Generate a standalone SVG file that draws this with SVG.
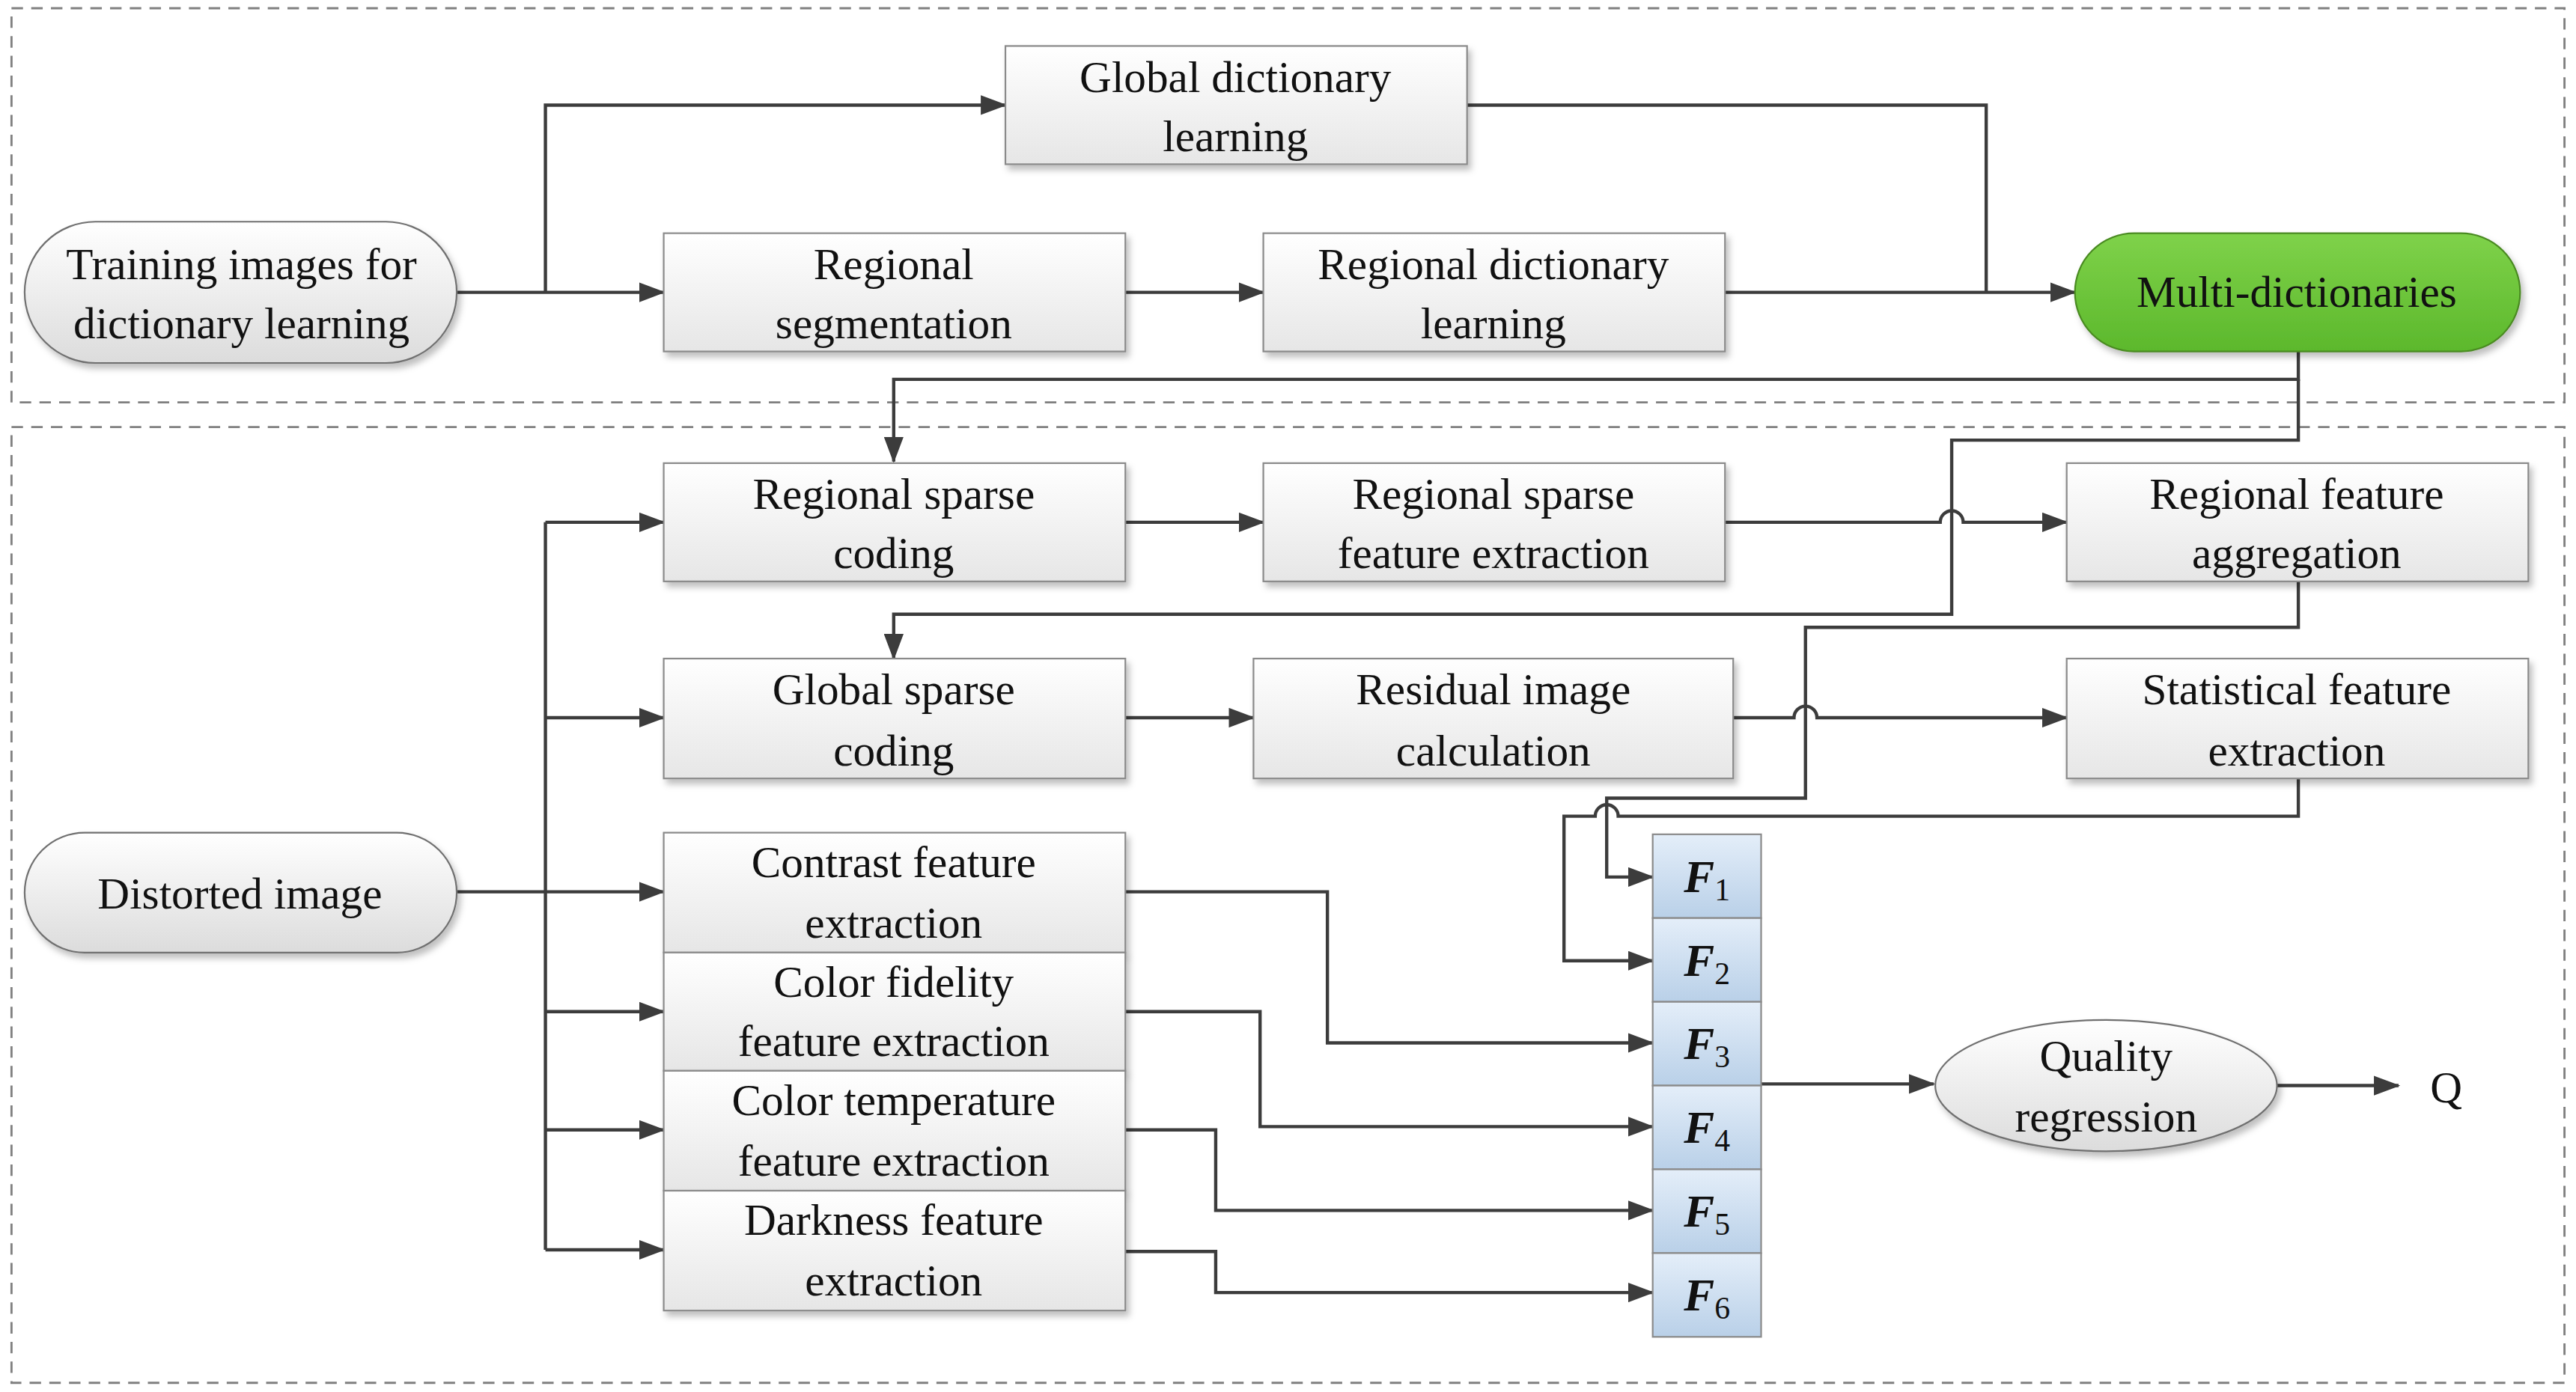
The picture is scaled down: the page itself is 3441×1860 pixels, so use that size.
<svg xmlns="http://www.w3.org/2000/svg" width="3441" height="1860" viewBox="0 0 3441 1860">
<defs>
<linearGradient id="gb" x1="0" y1="0" x2="0" y2="1"><stop offset="0" stop-color="#ffffff"/><stop offset="1" stop-color="#e6e6e6"/></linearGradient>
<linearGradient id="gs" x1="0" y1="0" x2="0" y2="1"><stop offset="0" stop-color="#ffffff"/><stop offset="1" stop-color="#dcdcdc"/></linearGradient>
<linearGradient id="gf" x1="0" y1="0" x2="0" y2="1"><stop offset="0" stop-color="#e4eef9"/><stop offset="1" stop-color="#b9d0e8"/></linearGradient>
<linearGradient id="gg" x1="0" y1="0" x2="0" y2="1"><stop offset="0" stop-color="#7fd24a"/><stop offset="1" stop-color="#5cb82c"/></linearGradient>
<filter id="sh" x="-10%" y="-10%" width="130%" height="140%"><feDropShadow dx="2" dy="3" stdDeviation="2" flood-color="#000" flood-opacity="0.25"/></filter>
<marker id="ar" markerUnits="userSpaceOnUse" markerWidth="16" markerHeight="12" refX="15" refY="6" orient="auto"><path d="M0,0 L16,6 L0,12 Z" fill="#3c3c3c"/></marker>
<style>
.box{fill:url(#gb);stroke:#8a8a8a;stroke-width:1;filter:url(#sh)}
.st{fill:url(#gs);stroke:#707070;stroke-width:1;filter:url(#sh)}
.fb{fill:url(#gf);stroke:#8a8a8a;stroke-width:1}
.dash{fill:none;stroke:#808080;stroke-width:1.3;stroke-dasharray:7,5}
.c{fill:none;stroke:#3c3c3c;stroke-width:2}
.a{marker-end:url(#ar)}
text{font-family:"Liberation Serif","Times New Roman",serif;font-size:27px;fill:#111;text-anchor:middle}
.fx{font-weight:bold;font-style:italic;font-size:28px}
.sub{font-size:19px;font-weight:normal;font-style:normal}
</style>
</defs>
<rect width="3441" height="1860" fill="#fff"/>
<g transform="scale(2.1945)">
<rect class="dash" x="7" y="5" width="1554" height="240"/>
<rect class="dash" x="7" y="260" width="1554" height="582"/>
<g id="connectors">
<path class="c a" d="M278,178 L404,178"/>
<path class="c a" d="M332,178 L332,64 L612,64"/>
<path class="c a" d="M685,178 L769,178"/>
<path class="c a" d="M1050,178 L1263,178"/>
<path class="c" d="M893,64 L1209,64 L1209,178"/>
<path class="c a" d="M1399,214 L1399,231 L544,231 L544,281"/>
<path class="c a" d="M1399,231 L1399,268 L1188,268 L1188,374 L544,374 L544,401"/>
<path class="c a" d="M685,318 L769,318"/>
<path class="c a" d="M1050,318 L1181,318 A7,7 0 0 1 1195,318 L1258,318"/>
<path class="c a" d="M685,437 L763,437"/>
<path class="c a" d="M1055,437 L1092,437 A7,7 0 0 1 1106,437 L1258,437"/>
<path class="c a" d="M1399,354 L1399,382 L1099,382 L1099,486 L978,486 L978,534 L1006,534"/>
<path class="c a" d="M1399,474 L1399,497 L985,497 A7,7 0 0 0 971,497 L952,497 L952,585 L1006,585"/>
<path class="c a" d="M278,543 L404,543"/>
<path class="c" d="M332,318 L332,761"/>
<path class="c a" d="M332,318 L404,318"/>
<path class="c a" d="M332,437 L404,437"/>
<path class="c a" d="M332,616 L404,616"/>
<path class="c a" d="M332,688 L404,688"/>
<path class="c a" d="M332,761 L404,761"/>
<path class="c a" d="M685,543 L808,543 L808,635 L1006,635"/>
<path class="c a" d="M685,616 L767,616 L767,686 L1006,686"/>
<path class="c a" d="M685,688 L740,688 L740,737 L1006,737"/>
<path class="c a" d="M685,762 L740,762 L740,787 L1006,787"/>
<path class="c a" d="M1072,660 L1177,660"/>
<path class="c a" d="M1386,661 L1460,661"/>
</g>
<g id="n-train"><rect class="st" x="15" y="135" width="263" height="86" rx="43"/><text x="147" y="170">Training images for</text><text x="147" y="206">dictionary learning</text></g>
<g id="n-global"><rect class="box" x="612" y="28" width="281" height="72"/><text x="752" y="56">Global dictionary</text><text x="752" y="92">learning</text></g>
<g id="n-seg"><rect class="box" x="404" y="142" width="281" height="72"/><text x="544" y="170">Regional</text><text x="544" y="206">segmentation</text></g>
<g id="n-rdl"><rect class="box" x="769" y="142" width="281" height="72"/><text x="909" y="170">Regional dictionary</text><text x="909" y="206">learning</text></g>
<g id="n-multi"><rect x="1263" y="142" width="271" height="72" rx="36" fill="url(#gg)" stroke="#4a8a20" stroke-width="1" filter="url(#sh)"/><text x="1398" y="187">Multi-dictionaries</text></g>
<g id="n-rsc"><rect class="box" x="404" y="282" width="281" height="72"/><text x="544" y="310">Regional sparse</text><text x="544" y="346">coding</text></g>
<g id="n-rsfe"><rect class="box" x="769" y="282" width="281" height="72"/><text x="909" y="310">Regional sparse</text><text x="909" y="346">feature extraction</text></g>
<g id="n-rfa"><rect class="box" x="1258" y="282" width="281" height="72"/><text x="1398" y="310">Regional feature</text><text x="1398" y="346">aggregation</text></g>
<g id="n-gsc"><rect class="box" x="404" y="401" width="281" height="73"/><text x="544" y="429">Global sparse</text><text x="544" y="466">coding</text></g>
<g id="n-ric"><rect class="box" x="763" y="401" width="292" height="73"/><text x="909" y="429">Residual image</text><text x="909" y="466">calculation</text></g>
<g id="n-sfe"><rect class="box" x="1258" y="401" width="281" height="73"/><text x="1398" y="429">Statistical feature</text><text x="1398" y="466">extraction</text></g>
<g id="n-dist"><rect class="st" x="15" y="507" width="263" height="73" rx="36.5"/><text x="146" y="553">Distorted image</text></g>
<g id="n-cfe"><rect class="box" x="404" y="507" width="281" height="73"/><text x="544" y="534">Contrast feature</text><text x="544" y="571">extraction</text></g>
<g id="n-cffe"><rect class="box" x="404" y="580" width="281" height="72"/><text x="544" y="607">Color fidelity</text><text x="544" y="643">feature extraction</text></g>
<g id="n-ctfe"><rect class="box" x="404" y="652" width="281" height="73"/><text x="544" y="679">Color temperature</text><text x="544" y="716">feature extraction</text></g>
<g id="n-dfe"><rect class="box" x="404" y="725" width="281" height="73"/><text x="544" y="752">Darkness feature</text><text x="544" y="789">extraction</text></g>
<g id="n-F">
<rect class="fb" x="1006" y="508" width="66" height="51"/><rect class="fb" x="1006" y="559" width="66" height="51"/><rect class="fb" x="1006" y="610" width="66" height="51"/><rect class="fb" x="1006" y="661" width="66" height="51"/><rect class="fb" x="1006" y="712" width="66" height="51"/><rect class="fb" x="1006" y="763" width="66" height="51"/>
<text class="fx" x="1039" y="543">F<tspan class="sub" dy="5">1</tspan></text>
<text class="fx" x="1039" y="594">F<tspan class="sub" dy="5">2</tspan></text>
<text class="fx" x="1039" y="645">F<tspan class="sub" dy="5">3</tspan></text>
<text class="fx" x="1039" y="696">F<tspan class="sub" dy="5">4</tspan></text>
<text class="fx" x="1039" y="747">F<tspan class="sub" dy="5">5</tspan></text>
<text class="fx" x="1039" y="798">F<tspan class="sub" dy="5">6</tspan></text>
</g>
<g id="n-qr"><ellipse cx="1282" cy="661" rx="104" ry="40" fill="url(#gs)" stroke="#707070" stroke-width="1" filter="url(#sh)"/><text x="1282" y="652">Quality</text><text x="1282" y="689">regression</text></g>
<g id="n-q"><text x="1489" y="671">Q</text></g>
</g>
</svg>
